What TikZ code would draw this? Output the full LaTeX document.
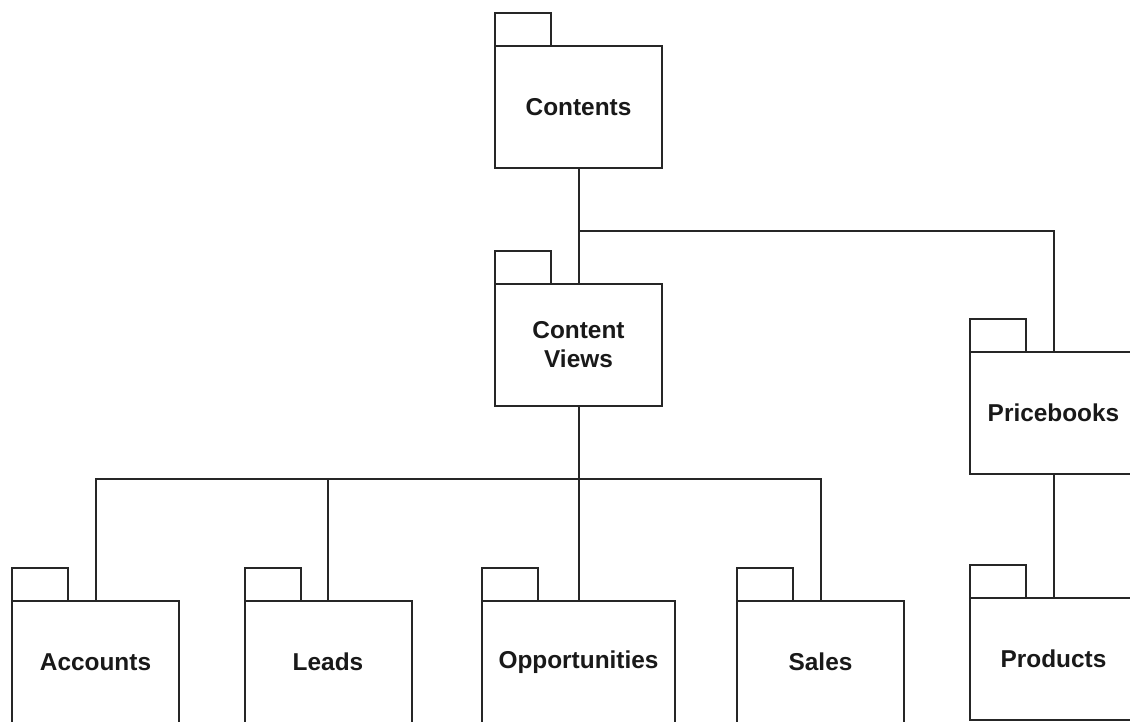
\documentclass[tikz,border=0pt]{standalone}
\usepackage{fontspec}
\setmainfont{Liberation Sans}
\usepackage{tikz}

\tikzset{
  package/.style={draw=black!85, line width=1pt, fill=white,
    minimum width=83.5pt, minimum height=61pt, inner sep=0pt,
    outer sep=0pt, align=center, text=black!90,
    font=\fontsize{12.2}{14.5}\selectfont\bfseries},
  wide/.style={minimum width=96.5pt},
  link/.style={draw=black!85, line width=1pt}
}

% tab on top of a package box
\newcommand{\pkgtab}[1]{\draw[link] (#1.north west) rectangle ++(56,-33);}

\begin{document}
\begin{tikzpicture}[x=0.5pt, y=-0.5pt]
  \useasboundingbox (0,0) rectangle (1130,722);
  \clip (0,0) rectangle (1130,722);

  % packages
  \node[package] (contents) at (578.5,107) {Contents};
  \node[package] (views) at (578.5,345) {Content\\Views};
  \node[package] (pricebooks) at (1053.5,413) {Pricebooks};
  \node[package] (products) at (1053.5,658.5) {Products};

  \node[package] (accounts) at (95.5,662) {Accounts};
  \node[package] (leads) at (328,662) {Leads};
  \node[package, wide] (opportunities) at (578.5,662) {Opportunities};
  \node[package] (sales) at (820.5,662) {Sales};

  \foreach \p in {contents, views, pricebooks, products,
                  accounts, leads, opportunities, sales}
    {\pkgtab{\p}}

  % connections
  \coordinate (top bus) at (578.5,231);
  \coordinate (low bus) at (578.5,479);

  \draw[link] (contents.south) -- (views.north);
  \draw[link] (top bus) -| (pricebooks.north);
  \draw[link] (pricebooks.south) -- (products.north);

  \draw[link] (views.south) -- (opportunities.north);
  \draw[link] (low bus) -| (accounts.north);
  \draw[link] (low bus) -| (leads.north);
  \draw[link] (low bus) -| (sales.north);
\end{tikzpicture}
\end{document}
